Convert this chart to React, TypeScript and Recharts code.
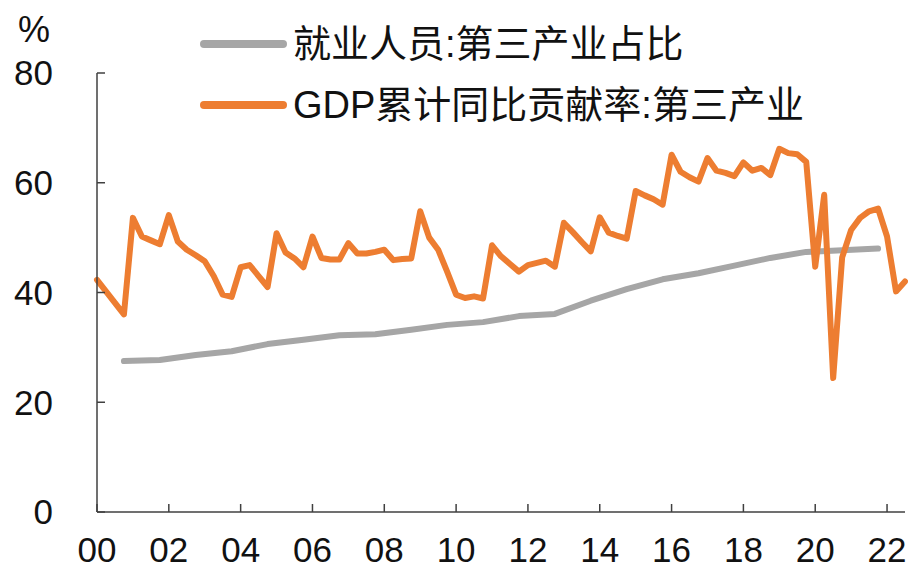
import React from 'react';
import { LineChart, Line, XAxis, YAxis, Legend } from 'recharts';

// Year categories (quarterly data 2000Q1 .. 2022Q3)
const years = [2000, 2001, 2002, 2003, 2004, 2005, 2006, 2007, 2008, 2009, 2010, 2011, 2012, 2013, 2014, 2015, 2016, 2017, 2018, 2019, 2020, 2021, 2022];
const quarterNames = ['Q1', 'Q2', 'Q3', 'Q4'];

// GDP累计同比贡献率:第三产业 (%), quarterly
const gdpContribution = [
  42.3, 40.2, 38.1, 36.0,
  53.6, 50.2, 49.5, 48.8,
  54.1, 49.3, 47.8, 46.8,
  45.7, 43.0, 39.6, 39.2,
  44.6, 45.0, 43.0, 41.0,
  50.8, 47.3, 46.2, 44.6,
  50.2, 46.3, 46.0, 46.0,
  49.0, 47.1, 47.1, 47.4,
  47.8, 45.9, 46.1, 46.2,
  54.8, 50.0, 47.8, 43.8,
  39.6, 39.0, 39.3, 38.9,
  48.6, 46.6, 45.2, 43.8,
  45.0, 45.4, 45.8, 44.7,
  52.7, 51.0, 49.2, 47.5,
  53.7, 50.9, 50.3, 49.8,
  58.5, 57.7, 57.0, 56.0,
  65.1, 62.0, 61.0, 60.2,
  64.5, 62.2, 61.8, 61.2,
  63.7, 62.2, 62.7, 61.4,
  66.2, 65.4, 65.2, 63.8,
  44.7, 57.8, 24.4, 46.4,
  51.4, 53.6, 54.8, 55.3,
  50.2, 40.2, 42.0,
];

// 就业人员:第三产业占比 (%), annual 2000..2021 (plotted at Q4)
const employmentShare = [27.5, 27.7, 28.6, 29.3, 30.6, 31.4, 32.2, 32.4, 33.2, 34.1, 34.6, 35.7, 36.1, 38.5, 40.6, 42.4, 43.5, 44.9, 46.3, 47.4, 47.7, 48.0];

// X tick labels
const xTickLabels = ['00', '02', '04', '06', '08', '10', '12', '14', '16', '18', '20', '22'];
const yTicks = [0, 20, 40, 60, 80];

const series = [
  { key: 'emp', name: '就业人员:第三产业占比', color: '#A6A6A6' },
  { key: 'gdp', name: 'GDP累计同比贡献率:第三产业', color: '#ED7D31' },
];

const data = gdpContribution.map((v, i) => {
  const yi = Math.floor(i / 4);
  const q = i % 4;
  return {
    t: i,
    label: `${years[yi]}${quarterNames[q]}`,
    gdp: v,
    emp: q === 3 && yi < employmentShare.length ? employmentShare[yi] : null,
  };
});

const xTicks = xTickLabels.map((_, i) => i * 8);

const FONT = '"Liberation Sans", Arial, "Noto Sans CJK SC", sans-serif';

const LegendContent = () => (
  <div style={{ position: 'relative', width: 908, height: 130 }}>
    {series.map((s, i) => (
      <div key={s.key} style={{ position: 'absolute', left: 200, top: 44 + i * 61 - 22, height: 44, display: 'flex', alignItems: 'center' }}>
        <div style={{ width: 87, height: 8, borderRadius: 4, background: s.color }} />
        <span style={{ marginLeft: 6, fontFamily: FONT, fontSize: 38, color: '#111', whiteSpace: 'nowrap', lineHeight: '44px' }}>{s.name}</span>
      </div>
    ))}
  </div>
);

export default function App() {
  return (
    <div style={{ position: 'absolute', left: 0, top: 0, width: 908, height: 571, background: '#fff' }}>
      <LineChart width={908} height={571} data={data} margin={{ top: 73, right: 3, bottom: 0, left: 0 }}>
        <XAxis
          dataKey="t"
          type="number"
          domain={[0, 90]}
          ticks={xTicks}
          tickFormatter={(v: number) => xTickLabels[v / 8]}
          height={59}
          tickSize={-8}
          tickMargin={33}
          axisLine={{ stroke: '#404040', strokeWidth: 1.5 }}
          tickLine={{ stroke: '#404040', strokeWidth: 1.5 }}
          tick={{ fontSize: 35, fill: '#111', fontFamily: FONT }}
          interval={0}
        />
        <YAxis
          domain={[0, 80]}
          ticks={yTicks}
          width={97}
          tickSize={-8}
          tickMargin={52}
          axisLine={{ stroke: '#404040', strokeWidth: 1.5 }}
          tickLine={{ stroke: '#404040', strokeWidth: 1.5 }}
          tick={{ fontSize: 35, fill: '#111', fontFamily: FONT }}
          interval={0}
          label={{
            content: (props: any) => {
              const vb = props.viewBox || { x: 0, y: 73 };
              return (
                <text x={vb.x + 34} y={vb.y - 31} textAnchor="middle" fontSize={36} fill="#111" fontFamily={FONT}>%</text>
              );
            },
          }}
        />
        <Legend
          layout="horizontal"
          verticalAlign="middle"
          align="center"
          wrapperStyle={{ left: 0, top: 0, width: 908, height: 130 }}
          content={() => <LegendContent />}
        />
        <Line
          type="linear"
          dataKey="emp"
          name={series[0].name}
          stroke={series[0].color}
          strokeWidth={6}
          dot={false}
          connectNulls
          strokeLinecap="round"
          strokeLinejoin="round"
          isAnimationActive={false}
        />
        <Line
          type="linear"
          dataKey="gdp"
          name={series[1].name}
          stroke={series[1].color}
          strokeWidth={6}
          dot={false}
          strokeLinecap="round"
          strokeLinejoin="round"
          isAnimationActive={false}
        />
      </LineChart>
    </div>
  );
}
